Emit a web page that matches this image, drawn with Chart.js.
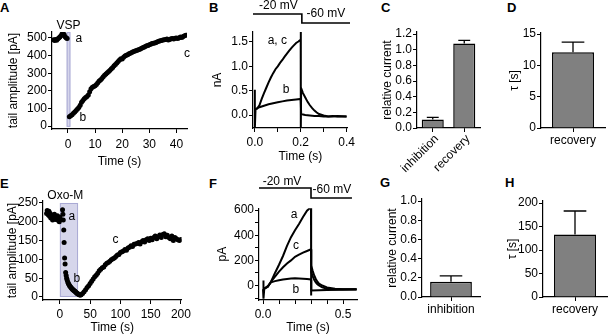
<!DOCTYPE html>
<html lang="en">
<head>
<meta charset="UTF-8" />
<title>KCNQ tail current: VSP and Oxo-M</title>
<script src="https://cdn.jsdelivr.net/npm/chart.js"></script>
<style>
  body { margin: 0; background: #fff; }
  #fig { position: relative; width: 608px; height: 336px; overflow: hidden; font-family: "Liberation Sans", Arial, sans-serif; color: #000; }
  #fig canvas { position: absolute; }
  .tag { position: absolute; font-weight: bold; font-size: 13px; line-height: 13px; }
</style>
</head>
<body>
<div id="fig">
  <div class="tag" style="left:0px;top:1px">A</div>
  <div class="tag" style="left:209px;top:1px">B</div>
  <div class="tag" style="left:381px;top:1px">C</div>
  <div class="tag" style="left:507px;top:1px">D</div>
  <div class="tag" style="left:0px;top:177px">E</div>
  <div class="tag" style="left:209px;top:177px">F</div>
  <div class="tag" style="left:380px;top:176px">G</div>
  <div class="tag" style="left:505px;top:176px">H</div>
</div>

<script>
// ---- A: tail amplitude before / after VSP activation ----
const aTime = [-5.3, -5.0, -4.6, -4.2, -3.8, -3.4, -3.0, -2.6, -2.2, -1.8, -1.4, -1.0, -0.6, -0.3,
  0.5, 1, 1.5, 2, 2.5, 3, 3.5, 4, 4.5, 5, 5.5, 6, 6.5, 7, 7.5, 8, 8.5, 9, 9.5, 10,
  10.5, 11, 11.5, 12, 12.5, 13, 13.5, 14, 14.5, 15, 15.5, 16, 16.5, 17, 17.5, 18, 18.5, 19, 19.5, 20,
  20.5, 21, 21.5, 22, 22.5, 23, 23.5, 24, 24.5, 25, 25.5, 26, 26.5, 27, 27.5, 28, 28.5, 29, 29.5, 30,
  30.5, 31, 31.5, 32, 32.5, 33, 33.5, 34, 34.5, 35, 35.5, 36, 36.5, 37, 37.5, 38, 38.5, 39, 39.5, 40,
  40.5, 41, 41.5, 42, 42.5, 43, 43.5];
const aAmp = [490, 486, 492, 487, 494, 500, 505, 512, 522, 528, 518, 505, 500, 497,
  52, 58, 64, 72, 80, 88, 96, 105, 118, 135, 145, 155, 162, 168, 176, 195, 212, 220, 224, 228,
  236, 246, 255, 262, 270, 280, 288, 295, 302, 310, 317, 325, 333, 342, 350, 358, 366, 375, 382, 380,
  390, 398, 402, 405, 410, 414, 418, 422, 424, 427, 430, 433, 436, 440, 444, 448, 452, 456, 458, 461,
  465, 468, 470, 472, 475, 478, 481, 484, 486, 488, 490, 492, 494, 489, 492, 495, 497, 494, 498, 500,
  497, 502, 505, 503, 508, 512, 516];
const vspWindow = [-0.5, 0.9];
const aXTicks = [0, 10, 20, 30, 40];
const aYTicks = [0, 100, 200, 300, 400, 500];

// ---- B: current traces (nA), a/c = control & recovered, b = during VSP ----
const bAcTime = [0, 0, 0.003, 0.01, 0.02, 0.03, 0.04, 0.05, 0.06, 0.07, 0.08, 0.09, 0.10, 0.11, 0.12,
  0.13, 0.14, 0.15, 0.16, 0.17, 0.18, 0.19, 0.20, 0.20, 0.201, 0.202, 0.21, 0.22, 0.23, 0.24, 0.25,
  0.26, 0.27, 0.28, 0.30, 0.32, 0.34, 0.36, 0.38, 0.40];
const bAcCur = [0.52, -0.28, 0.12, 0.13, 0.20, 0.33, 0.45, 0.56, 0.67, 0.77, 0.86, 0.94, 1.00, 1.07, 1.13,
  1.20, 1.26, 1.32, 1.38, 1.43, 1.48, 1.51, 1.55, 1.72, -0.28, 0.55, 0.45, 0.36, 0.27, 0.20, 0.14,
  0.09, 0.05, 0.02, -0.01, -0.03, -0.02, -0.03, -0.03, -0.03];
const bBTime = [0.003, 0.02, 0.04, 0.06, 0.08, 0.10, 0.12, 0.14, 0.16, 0.18, 0.20, 0.202, 0.21, 0.22,
  0.24, 0.26, 0.28, 0.30, 0.33, 0.36, 0.40];
const bBCur = [0.12, 0.16, 0.19, 0.22, 0.24, 0.26, 0.28, 0.30, 0.31, 0.32, 0.33, 0.03, 0.01, 0.00,
  -0.01, -0.02, -0.02, -0.03, -0.03, -0.02, -0.03];
const bStepTime = [-0.008, 0.2, 0.2, 0.405];
const bStepMv = [-20, -20, -60, -60];
const bXTicks = [0, 0.1, 0.2, 0.3, 0.4];
const bXLabels = ['0.0', '', '0.2', '', '0.4'];
const bYTicks = [0, 0.5, 1, 1.5];
const bYLabels = ['0.0', '0.5', '1.0', '1.5'];

// ---- C / D: VSP summary ----
const cGroups = ['inhibition', 'recovery'];
const cMean = [0.11, 1.08];
const cSem = [0.025, 0.04];
const cYTicks = [0, 0.2, 0.4, 0.6, 0.8, 1.0, 1.2];
const dGroups = ['recovery'];
const dMean = [12.1];
const dSem = [1.6];
const dYTicks = [0, 5, 10, 15];

// ---- E: tail amplitude with Oxo-M ----
const eTime = [-22, -21, -20, -19, -18, -17, -16, -15, -14, -13, -12, -11, -10, -9, -8, -7, -6, -5, -4, -3, -2, -1, 0, 1,
  4.4, 5, 5.6, 6.4, 7, 7.8, 8.6, 9.5, 10.4, 11.2, 12, 13, 14, 15, 16, 17, 18, 19, 20, 21, 22, 23, 24, 25,
  26, 27, 28, 29, 30, 31, 32, 33, 34, 35,
  37.5, 40, 42.5, 45, 47.5, 50, 52.5, 55, 57.5, 60, 62.5, 65, 67.5, 70, 72.5, 75, 77.5, 80, 82.5, 85,
  87.5, 90, 92.5, 95, 97.5, 100, 102.5, 105, 107.5, 110, 112.5, 115, 117.5, 120, 122.5, 125, 127.5, 130,
  132.5, 135, 137.5, 140, 142.5, 145, 147.5, 150, 152.5, 155, 157.5, 160, 162.5, 165, 167.5, 170, 172.5,
  175, 177.5, 180, 182.5, 185, 187.5, 190, 192.5, 195, 197.5, 200];
const eAmp = [222, 230, 226, 218, 228, 215, 222, 210, 218, 212, 205, 215, 208, 220, 212, 206, 214, 209, 216, 204, 210, 200, 212, 206,
  232, 220, 205, 178, 145, 104, 88, 65, 57, 50, 45, 40, 36, 33, 30, 28, 26, 24, 22, 20, 19, 17, 16, 15,
  13, 12, 10, 9, 8, 7, 6, 5, 5, 6,
  9, 14, 19, 25, 30, 36, 42, 48, 54, 58, 63, 70, 74, 78, 80, 86, 90, 92, 95, 99,
  102, 104, 108, 112, 113, 118, 120, 122, 126, 124, 130, 132, 136, 134, 140, 141, 142, 145,
  141, 147, 150, 146, 152, 155, 150, 156, 152, 158, 162, 155, 160, 165, 158, 166, 168,
  160, 164, 158, 155, 162, 150, 158, 155, 152, 150, 153];
const oxoWindow = [0, 30];
const eXTicks = [0, 50, 100, 150, 200];
const eYTicks = [0, 50, 100, 150, 200, 250];

// ---- F: current traces (pA) ----
const fATime = [0, 0.002, 0.004, 0.008, 0.03, 0.05, 0.075, 0.1, 0.125, 0.15, 0.175, 0.2, 0.225, 0.25, 0.275, 0.3,
  0.3, 0.302, 0.31, 0.32, 0.33, 0.34, 0.35, 0.37, 0.4, 0.45, 0.5, 0.55, 0.585];
const fAAmp = [-30, 40, -105, -25, -10, 30, 100, 165, 235, 315, 385, 440, 490, 545, 595, 625,
  -80, 160, 120, 80, 52, 30, 15, 0, -15, -25, -30, -30, -30];
const fCTime = [0.008, 0.03, 0.05, 0.075, 0.1, 0.125, 0.15, 0.175, 0.2, 0.225, 0.25, 0.275, 0.3,
  0.302, 0.31, 0.32, 0.33, 0.34, 0.35, 0.37, 0.4, 0.45, 0.5, 0.585];
const fCAmp = [-25, -10, 30, 70, 110, 145, 175, 200, 228, 245, 262, 275, 288,
  105, 75, 45, 25, 10, 0, -15, -25, -30, -30, -30];
const fBTime = [0.008, 0.03, 0.05, 0.075, 0.1, 0.125, 0.15, 0.175, 0.2, 0.225, 0.25, 0.275, 0.3,
  0.302, 0.35, 0.4, 0.5, 0.585];
const fBAmp = [-25, -5, 25, 35, 42, 48, 52, 55, 57, 56, 54, 52, 48, -40, -38, -35, -33, -32];
const fStepTime = [-0.025, 0.3, 0.3, 0.556];
const fStepMv = [-20, -20, -60, -60];
const fXTicks = [0, 0.1, 0.2, 0.3, 0.4, 0.5];
const fXLabels = ['0.0', '', '', '', '', '0.5'];
const fYTicks = [-100, 0, 100, 200, 300, 400, 500, 600];
const fYLabels = ['', '0', '', '200', '', '400', '', '600'];

// ---- G / H: Oxo-M summary ----
const gGroups = ['inhibition'];
const gMean = [0.16];
const gSem = [0.06];
const gYTicks = [0, 0.2, 0.4, 0.6, 0.8, 1.0];
const hGroups = ['recovery'];
const hMean = [133];
const hSem = [50];
const hYTicks = [0, 50, 100, 150, 200];

// ---------------------------------------------------------------
const FONT = { family: '"Liberation Sans", Arial, sans-serif', size: 12 };
const FONT_CSS = '12px "Liberation Sans", Arial, sans-serif';
const fig = document.getElementById('fig');

function place(left, top, w, h) {
  const cv = document.createElement('canvas');
  cv.width = w; cv.height = h;
  cv.style.left = left + 'px'; cv.style.top = top + 'px';
  cv.style.width = w + 'px'; cv.style.height = h + 'px';
  fig.appendChild(cv);
  return cv;
}

function pts(xs, ys) {
  return xs.map((x, i) => ({ x, y: ys[i] }));
}

function fmt(labels) {
  return labels ? (v, i) => labels[i] : (v) => String(v);
}

// linear axis with hand-picked ticks and a fixed box size
function axis(pos, min, max, ticks, labels, title, size, pad) {
  return {
    type: 'linear', position: pos, min, max,
    afterBuildTicks: s => { s.ticks = ticks.map(v => ({ value: v })); },
    afterFit: s => { if (pos === 'left') s.width = size; else s.height = size; },
    grid: { display: true, drawOnChartArea: false, drawTicks: true, tickLength: 4, color: '#000', lineWidth: 1 },
    border: { display: true, color: '#000', width: 1.2 },
    ticks: { autoSkip: false, maxRotation: 0, padding: pad, color: '#000', font: FONT, callback: fmt(labels) },
    title: { display: !!title, text: title, color: '#000', font: FONT, padding: 0 }
  };
}

function notes(items, xId, yId) {
  return {
    id: 'notes',
    afterDraw(chart) {
      const ctx = chart.ctx, xs = chart.scales[xId || 'x'], ys = chart.scales[yId || 'y'];
      ctx.save();
      ctx.font = FONT_CSS;
      ctx.fillStyle = '#000';
      ctx.textAlign = 'center';
      ctx.textBaseline = 'middle';
      items.forEach(n => ctx.fillText(n.text, xs.getPixelForValue(n.x), ys.getPixelForValue(n.y)));
      ctx.restore();
    }
  };
}

// category labels written at 45 degrees, ending at their tick
const slantLabels = {
  id: 'slantLabels',
  afterDraw(chart) {
    const ctx = chart.ctx, xs = chart.scales.x;
    ctx.save();
    ctx.font = FONT_CSS;
    ctx.fillStyle = '#000';
    ctx.textAlign = 'right';
    ctx.textBaseline = 'middle';
    chart.data.labels.forEach((lab, i) => {
      ctx.save();
      ctx.translate(xs.getPixelForTick(i) + 4, xs.top + 9);
      ctx.rotate(-Math.PI / 4);
      ctx.fillText(lab, 0, 0);
      ctx.restore();
    });
    ctx.restore();
  }
};

function shade(win, lo, hi) {
  return {
    id: 'shade',
    beforeDatasetsDraw(chart) {
      const { ctx, scales: { x, y } } = chart;
      const x0 = x.getPixelForValue(win[0]), x1 = x.getPixelForValue(win[1]);
      const y0 = y.getPixelForValue(hi), y1 = y.getPixelForValue(lo);
      ctx.save();
      ctx.fillStyle = 'rgba(200, 200, 228, 0.75)';
      ctx.fillRect(x0, y0, x1 - x0, y1 - y0);
      ctx.strokeStyle = 'rgba(165, 165, 210, 0.9)';
      ctx.lineWidth = 1;
      ctx.strokeRect(x0 + 0.5, y0 + 0.5, x1 - x0 - 1, y1 - y0 - 1);
      ctx.restore();
    }
  };
}

const errorBars = {
  id: 'errorBars',
  afterDatasetsDraw(chart) {
    const ctx = chart.ctx, ys = chart.scales.y;
    chart.data.datasets.forEach((ds, di) => {
      chart.getDatasetMeta(di).data.forEach((bar, i) => {
        const top = ys.getPixelForValue(ds.data[i] + ds.sem[i]);
        const half = bar.width * 0.27;
        ctx.save();
        ctx.strokeStyle = '#000';
        ctx.lineWidth = 1.3;
        ctx.beginPath();
        ctx.moveTo(bar.x, bar.y);
        ctx.lineTo(bar.x, top);
        ctx.moveTo(bar.x - half, top);
        ctx.lineTo(bar.x + half, top);
        ctx.stroke();
        ctx.restore();
      });
    });
  }
};

const base = {
  responsive: false, animation: false, devicePixelRatio: 1, events: [],
  plugins: { legend: { display: false }, tooltip: { enabled: false } }
};

function xyPanel(box, top, right, xAx, yAx, datasets, plugins) {
  return new Chart(place(box[0], box[1], box[2], box[3]), {
    type: 'scatter',
    data: { datasets },
    options: Object.assign({}, base, {
      layout: { padding: { left: 0, top, right, bottom: 0 } },
      scales: { x: xAx, y: yAx }
    }),
    plugins
  });
}

function dots(xs, ys) {
  return { data: pts(xs, ys), pointRadius: 2.5, pointBackgroundColor: '#000', pointBorderWidth: 0, showLine: false };
}

function trace(xs, ys) {
  return { data: pts(xs, ys), showLine: true, borderColor: '#000', borderWidth: 2, pointRadius: 0 };
}

// voltage protocol drawn with hidden scales in its own strip
function protocol(box, xMin, xMax, yMin, yMax, xs, ys, labels) {
  return new Chart(place(box[0], box[1], box[2], box[3]), {
    type: 'scatter',
    data: { datasets: [Object.assign(trace(xs, ys), { borderWidth: 1.6, clip: false })] },
    options: Object.assign({}, base, {
      layout: { padding: 0 },
      scales: {
        x: { type: 'linear', display: false, min: xMin, max: xMax },
        y: { type: 'linear', display: false, min: yMin, max: yMax }
      }
    }),
    plugins: [notes(labels)]
  });
}

function barPanel(box, top, right, groups, mean, sem, yMin, yMax, yTicks, yLabels, yTitle, yWidth, xHeight, slant, pct) {
  return new Chart(place(box[0], box[1], box[2], box[3]), {
    type: 'bar',
    data: {
      labels: groups,
      datasets: [{ data: mean, sem, backgroundColor: '#808080', borderColor: '#000', borderWidth: 1.5,
        barPercentage: pct, categoryPercentage: 1 }]
    },
    options: Object.assign({}, base, {
      layout: { padding: { left: 0, top, right, bottom: 0 } },
      scales: {
        x: {
          type: 'category', offset: true,
          afterFit: s => { s.height = xHeight; },
          grid: { display: true, offset: false, drawOnChartArea: false, tickLength: 4, color: '#000' },
          border: { display: true, color: '#000', width: 1.2 },
          ticks: { display: !slant, autoSkip: false, maxRotation: 0, padding: 1, color: '#000', font: FONT }
        },
        y: axis('left', yMin, yMax, yTicks, yLabels, yTitle, yWidth, 1)
      }
    }),
    plugins: slant ? [errorBars, slantLabels] : [errorBars]
  });
}

// A
xyPanel([6, 0, 193, 169], 32, 12,
  axis('bottom', -5.9, 43.9, aXTicks, null, 'Time (s)', 40, 4),
  axis('left', -17, 534, aYTicks, null, 'tail amplitude [pA]', 46, 1),
  [dots(aTime, aAmp)],
  [shade(vspWindow, -5, 534), notes([
    { text: 'VSP', x: 0.2, y: 571 },
    { text: 'a', x: 4.0, y: 497 },
    { text: 'b', x: 5.5, y: 45 },
    { text: 'c', x: 43.9, y: 412 }
  ])]);

// B
protocol([253, 0, 97, 30], -0.008, 0.405, -91.1, 42.2, bStepTime, bStepMv, [
  { text: '-20 mV', x: 0.1, y: 15.6 },
  { text: '-60 mV', x: 0.302, y: -20 }
]);
xyPanel([210, 0, 148, 164], 32, 8,
  axis('bottom', -0.008, 0.405, bXTicks, bXLabels, 'Time (s)', 36, 3),
  axis('left', -0.267, 1.705, bYTicks, bYLabels, 'nA', 43, 1),
  [trace(bAcTime, bAcCur), trace(bBTime, bBCur)],
  [notes([
    { text: 'a, c', x: 0.098, y: 1.52 },
    { text: 'b', x: 0.136, y: 0.53 }
  ])]);

// C
barPanel([380, 0, 103, 178], 32, 3, cGroups, cMean, cSem, 0, 1.226,
  cYTicks, cYTicks.map(v => v.toFixed(1)), 'relative current', 37, 50, true, 0.7);

// D
barPanel([507, 0, 101, 148], 33, 3, dGroups, dMean, dSem, 0, 15.16,
  dYTicks, null, 'τ [s]', 34, 20, false, 0.656);

// E
xyPanel([5, 185, 189, 150], 16, 12,
  axis('bottom', -27.9, 201, eXTicks, null, 'Time (s)', 35, 3),
  axis('left', -8, 255.3, eYTicks, null, 'tail amplitude [pA]', 38, 1),
  [dots(eTime, eAmp)],
  [shade(oxoWindow, 0, 250), notes([
    { text: 'Oxo-M', x: 9, y: 268.6 },
    { text: 'a', x: 19.7, y: 213 },
    { text: 'b', x: 27.9, y: 48 },
    { text: 'c', x: 91.8, y: 153 }
  ])]);

// F
protocol([259, 170, 98, 33], -0.025, 0.5875, -80, 52, fStepTime, fStepMv, [
  { text: '-20 mV', x: 0.119, y: 4 },
  { text: '-60 mV', x: 0.431, y: -28 }
]);
xyPanel([215, 200, 150, 135], 5, 8,
  axis('bottom', -0.025, 0.5875, fXTicks, fXLabels, 'Time (s)', 35, 3),
  axis('left', -115.4, 615.4, fYTicks, fYLabels, 'pA', 44, 1),
  [trace(fATime, fAAmp), trace(fCTime, fCAmp), trace(fBTime, fBAmp)],
  [notes([
    { text: 'a', x: 0.194, y: 561 },
    { text: 'c', x: 0.206, y: 315 },
    { text: 'b', x: 0.206, y: -31 }
  ])]);

// G
barPanel([385, 185, 99, 132], 14, 4, gGroups, gMean, gSem, 0, 1.021,
  gYTicks, gYTicks.map(v => v.toFixed(1)), 'relative current', 37, 20, false, 0.72);

// H
barPanel([505, 185, 103, 132], 16, 1, hGroups, hMean, hSem, 0, 204.3,
  hYTicks, null, 'τ [s]', 38, 20, false, 0.656);
</script>
</body>
</html>
